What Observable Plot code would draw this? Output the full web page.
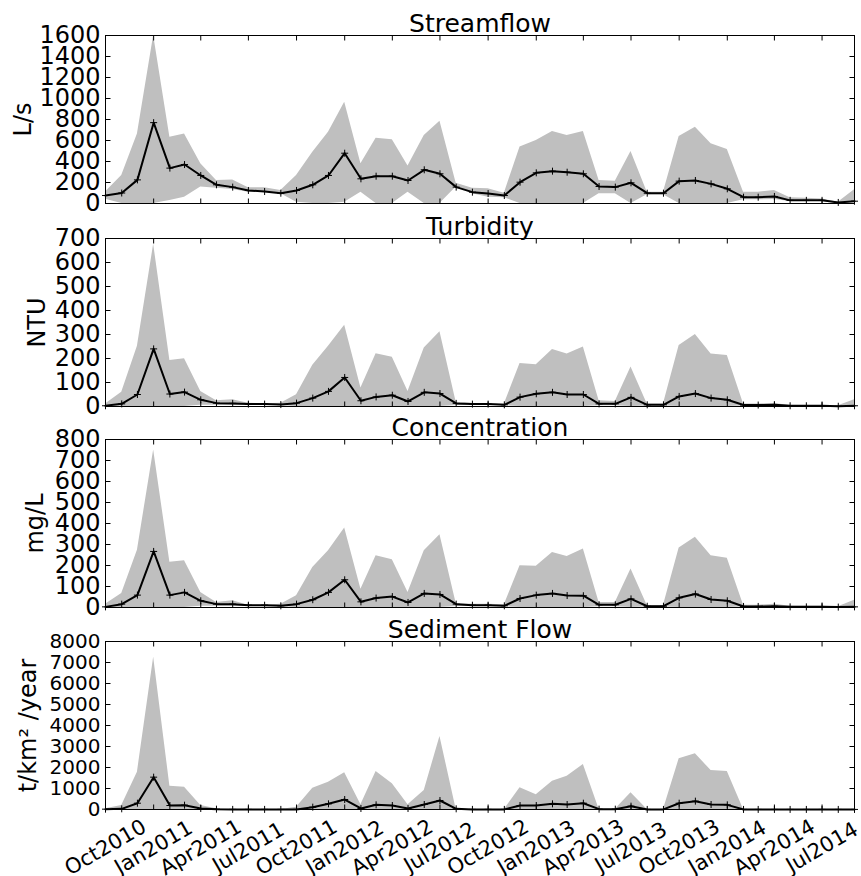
<!DOCTYPE html>
<html>
<head>
<meta charset="utf-8">
<script src="https://cdn.jsdelivr.net/npm/d3@7"></script>
<script src="https://cdn.jsdelivr.net/npm/@observablehq/plot@0.6"></script>
<style>
  body { margin: 0; background: #fff; }
  #chart { position: relative; width: 861px; height: 876px; font-family: "DejaVu Sans", sans-serif; }
  #chart svg { position: absolute; left: 0; }
</style>
</head>
<body>
<div id="chart"></div>
<script>
// ---- categories (monthly) ----
const months = [
  "2010-10","2010-11","2010-12","2011-01","2011-02","2011-03","2011-04","2011-05","2011-06","2011-07","2011-08","2011-09",
  "2011-10","2011-11","2011-12","2012-01","2012-02","2012-03","2012-04","2012-05","2012-06","2012-07","2012-08","2012-09",
  "2012-10","2012-11","2012-12","2013-01","2013-02","2013-03","2013-04","2013-05","2013-06","2013-07","2013-08","2013-09",
  "2013-10","2013-11","2013-12","2014-01","2014-02","2014-03","2014-04","2014-05","2014-06","2014-07","2014-08","2014-09"
];
const tickMonths = ["2010-10","2011-01","2011-04","2011-07","2011-10","2012-01","2012-04","2012-07","2012-10","2013-01","2013-04","2013-07","2013-10","2014-01","2014-04","2014-07"];
const tickLabels = ["Oct2010","Jan2011","Apr2011","Jul2011","Oct2011","Jan2012","Apr2012","Jul2012","Oct2012","Jan2013","Apr2013","Jul2013","Oct2013","Jan2014","Apr2014","Jul2014"];

// ---- Streamflow (L/s) ----
const streamMean = [76,100,225,770,337,371,267,178,156,124,114,98,124,178,267,479,235,260,260,219,321,283,156,108,95,76,203,292,308,298,283,162,156,197,98,98,213,219,187,140,60,60,67,30,30,30,10,22];
const streamLow  = [40,0,0,0,29,60,156,146,133,108,108,92,13,0,0,13,108,0,0,108,0,0,156,92,60,54,0,0,0,0,0,92,92,0,83,83,0,0,0,0,35,35,38,19,19,19,0,13];
const streamHigh = [110,267,663,1600,632,663,378,219,225,149,149,124,267,489,679,965,378,622,606,356,648,784,194,146,140,98,537,600,686,648,686,219,213,495,108,108,638,727,568,514,108,108,124,54,51,44,13,130];
const streamTicks = [0,200,400,600,800,1000,1200,1400,1600];

// ---- Turbidity (NTU) ----
const turbMean = [3,11,50,240,52,60,28,14,13,10,10,8,14,35,63,121,24,40,47,21,59,54,13,10,10,7,39,53,59,50,50,11,11,38,7,7,42,54,35,28,6,6,7,3,3,3,1,3];
const turbLow  = [0,0,0,0,0,0,5,5,5,4,4,3,0,0,0,0,0,0,0,0,0,0,4,4,4,3,0,0,0,0,0,3,3,0,2,2,0,0,0,0,2,2,2,1,1,1,0,0];
const turbHigh = [10,59,251,676,192,199,63,24,28,14,11,14,49,172,251,339,77,220,205,63,244,311,18,13,13,10,179,174,237,219,248,24,21,165,10,10,254,300,219,212,10,10,13,4,4,4,3,28];
const turbTicks = [0,100,200,300,400,500,600,700];

// ---- Concentration (mg/L) ----
const concMean = [3,16,59,267,59,72,32,16,16,11,11,8,16,37,72,132,27,45,52,24,67,62,16,11,11,8,43,59,67,57,56,13,13,41,6,6,46,64,38,32,5,5,6,3,3,3,2,3];
const concLow  = [0,0,0,0,0,0,6,6,6,5,5,4,0,0,0,0,0,0,0,0,0,0,5,5,5,4,0,0,0,0,0,4,4,0,2,2,0,0,0,0,2,2,2,1,1,1,0,0];
const concHigh = [16,67,273,750,215,223,72,24,32,11,11,16,56,191,270,378,87,246,227,72,270,347,19,16,16,13,199,196,262,243,278,24,24,183,10,10,283,334,246,235,11,11,16,6,6,6,3,35];
const concTicks = [0,100,200,300,400,500,600,700,800];

// ---- Sediment Flow (t/km²/year) ----
const sedMean = [16,32,300,1540,190,206,48,16,5,5,5,5,5,111,270,476,48,222,190,48,238,429,32,5,5,5,190,190,270,238,300,16,16,159,3,3,300,397,238,222,3,3,3,3,3,3,3,3];
const sedLow  = [0,0,0,0,0,0,0,0,0,0,0,0,0,0,0,0,0,0,0,0,0,0,0,0,0,0,0,0,0,0,0,0,0,0,0,0,0,0,0,0,0,0,0,0,0,0,0,0];
const sedHigh = [32,190,1778,7250,1111,1063,190,32,5,5,5,5,111,1016,1300,1746,222,1810,1222,222,905,3476,5,5,5,5,1032,698,1349,1587,2143,16,16,794,3,3,2413,2651,1857,1810,3,3,3,3,3,3,3,3];
const sedTicks = [0,1000,2000,3000,4000,5000,6000,7000,8000];

// ---- build ----
const toDate = (m) => new Date(m + "-01T00:00:00Z");
const tickDates = tickMonths.map(toDate);

const plusSym = {draw(c) { c.moveTo(-3.5, 0); c.lineTo(3.5, 0); c.moveTo(0, -3.5); c.lineTo(0, 3.5); }};
const tickL = {draw(c) { c.moveTo(0, 0); c.lineTo(5, 0); }};
const tickR = {draw(c) { c.moveTo(0, 0); c.lineTo(-5, 0); }};
const tickB = {draw(c) { c.moveTo(0, 0); c.lineTo(0, -5); }};
const tickT = {draw(c) { c.moveTo(0, 0); c.lineTo(0, 5); }};

const panels = [
  {title: "Streamflow", unit: "L/s", unitSize: 24, mean: streamMean, low: streamLow, high: streamHigh, yTicks: streamTicks, tickFont: 24, labelDx: -82, frameTop: 35, last: false},
  {title: "Turbidity", unit: "NTU", unitSize: 24, mean: turbMean, low: turbLow, high: turbHigh, yTicks: turbTicks, tickFont: 24, labelDx: -68, frameTop: 238, last: false},
  {title: "Concentration", unit: "mg/L", unitSize: 24, mean: concMean, low: concLow, high: concHigh, yTicks: concTicks, tickFont: 24, labelDx: -70, frameTop: 439, last: false},
  {title: "Sediment Flow", unit: "t/km² /year", unitSize: 24, mean: sedMean, low: sedLow, high: sedHigh, yTicks: sedTicks, tickFont: 20, labelDx: -77, frameTop: 641, last: true}
];

const chart = document.getElementById("chart");
const MT = 35, FH = 168;

for (const p of panels) {
  const data = months.map((m, j) => ({date: toDate(m), mean: p.mean[j], low: p.low[j], high: p.high[j]}));
  const mb = p.last ? 67 : 6;
  const tickStyle = {stroke: "black", fill: "none", strokeWidth: 1};
  const marks = [
    Plot.areaY(data, {x: "date", y1: "low", y2: "high", fill: "#bfbfbf"}),
    Plot.line(data, {x: "date", y: "mean", stroke: "black", strokeWidth: 2}),
    Plot.dot(data, {x: "date", y: "mean", symbol: plusSym, stroke: "black", fill: "none", strokeWidth: 1}),
    Plot.frame({stroke: "black", strokeWidth: 1}),
    Plot.dot(p.yTicks, {y: (d) => d, frameAnchor: "left", symbol: tickL, ...tickStyle}),
    Plot.dot(p.yTicks, {y: (d) => d, frameAnchor: "right", symbol: tickR, ...tickStyle}),
    Plot.dot(tickDates, {x: (d) => d, frameAnchor: "bottom", symbol: tickB, ...tickStyle}),
    Plot.dot(tickDates, {x: (d) => d, frameAnchor: "top", symbol: tickT, ...tickStyle}),
    Plot.axisY({ticks: p.yTicks, anchor: "left", tickSize: 0, tickPadding: 5, fontSize: p.tickFont, label: null, tickFormat: (d) => String(d)}),
    Plot.text([p.unit], {frameAnchor: "left", textAnchor: "middle", lineAnchor: "middle", rotate: -90, dx: p.labelDx, fontSize: p.unitSize, fill: "black"}),
    Plot.text([p.title], {frameAnchor: "top", textAnchor: "middle", dy: -3.5, lineAnchor: "bottom", fontSize: 25, fill: "black"})
  ];
  if (p.last) {
    marks.push(Plot.text(tickDates, {x: (d) => d, text: (d, j) => tickLabels[j], frameAnchor: "bottom", dy: 38, rotate: -30, fontSize: 21, textAnchor: "middle", lineAnchor: "middle", fill: "black"}));
  }
  const svg = Plot.plot({
    width: 861,
    height: MT + FH + mb,
    marginTop: MT,
    marginBottom: mb,
    marginLeft: 105,
    marginRight: 7,
    style: {fontFamily: "DejaVu Sans, sans-serif", background: "transparent", overflow: "visible", color: "black"},
    x: {type: "utc", domain: [toDate(months[0]), toDate(months[months.length - 1])], axis: null},
    y: {domain: [0, p.yTicks[p.yTicks.length - 1]]},
    marks
  });
  svg.style.top = (p.frameTop - MT) + "px";
  chart.appendChild(svg);
}
</script>
</body>
</html>
